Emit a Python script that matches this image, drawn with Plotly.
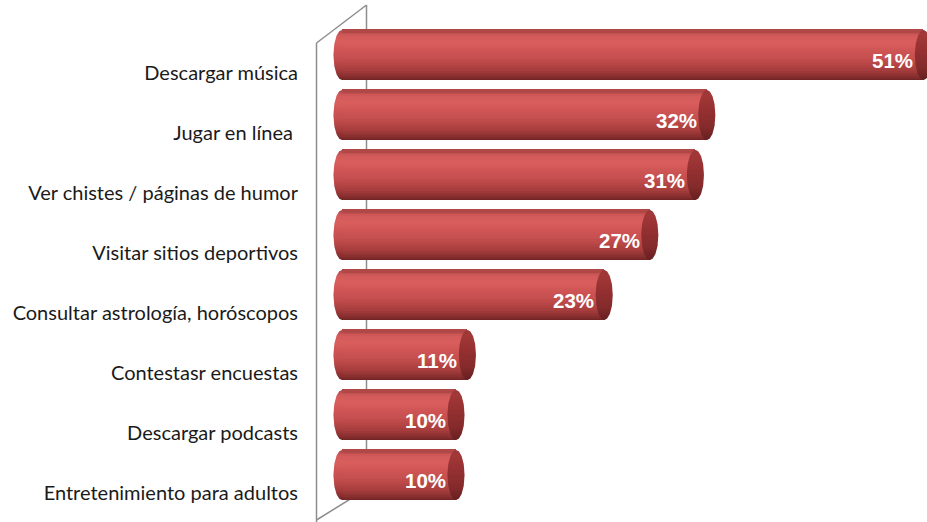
import numpy as np
import plotly.graph_objects as go

# Data
categories = [
    "Descargar música",
    "Jugar en línea\u00a0",
    "Ver chistes / páginas de humor",
    "Visitar sitios deportivos",
    "Consultar astrología, horóscopos",
    "Contestasr encuestas",
    "Descargar podcasts",
    "Entretenimiento para adultos",
]
values = [51, 32, 31, 27, 23, 11, 10, 10]
value_labels = ["51%", "32%", "31%", "27%", "23%", "11%", "10%", "10%"]

n = len(categories)
ypos = [n - 1 - i for i in range(n)]  # first category at the top

# Cylinder styling
BAR_H = 0.8333          # bar thickness in category units
CAP_RX = 0.75           # horizontal radius of the end ellipses (x units)
N_SLICES = 26

# vertical shading profile of the cylinder body, 0 = bottom edge, 1 = top edge
body_profile = [
    (0.00, (0x6a, 0x22, 0x22)),
    (0.07, (0x85, 0x2d, 0x2d)),
    (0.20, (0xa5, 0x3c, 0x3c)),
    (0.40, (0xc2, 0x4c, 0x4c)),
    (0.60, (0xcf, 0x55, 0x55)),
    (0.76, (0xda, 0x5e, 0x5e)),
    (0.89, (0xd3, 0x5a, 0x5a)),
    (0.96, (0xbb, 0x4b, 0x4b)),
    (1.00, (0xa6, 0x45, 0x45)),
]
face_profile = [
    (0.00, (0x66, 0x1f, 0x20)),
    (0.25, (0x84, 0x2a, 0x2b)),
    (0.60, (0x95, 0x30, 0x31)),
    (0.90, (0xa2, 0x38, 0x38)),
    (1.00, (0x9a, 0x38, 0x38)),
]


def shade(profile, t):
    for (t0, c0), (t1, c1) in zip(profile[:-1], profile[1:]):
        if t0 <= t <= t1:
            f = (t - t0) / (t1 - t0) if t1 > t0 else 0
            c = [round(a + (b - a) * f) for a, b in zip(c0, c1)]
            return "rgb({},{},{})".format(*c)
    c = profile[-1][1]
    return "rgb({},{},{})".format(*c)


def colorscale(profile):
    return [[t, "rgb({},{},{})".format(*c)] for t, c in profile]


fig = go.Figure()

# Cylinder bodies: stacked thin slices give the vertical shading
slice_w = BAR_H / N_SLICES
for j in range(N_SLICES):
    t = (j + 0.5) / N_SLICES
    fig.add_trace(go.Bar(
        x=values,
        y=ypos,
        orientation="h",
        base=0,
        width=slice_w * 1.6,
        offset=-BAR_H / 2 + j * slice_w - (0.3 * slice_w if j else 0),
        marker=dict(color=shade(body_profile, t), line=dict(width=0)),
        hoverinfo="skip",
        showlegend=False,
    ))

theta = np.linspace(0, np.pi, 60)
full = np.linspace(0, 2 * np.pi, 120)
ry = BAR_H / 2
for v, yc in zip(values, ypos):
    # rounded near end of the cylinder at the axis
    xs = list(-CAP_RX * np.sin(theta)) + [0.05, 0.05]
    ys = list(yc + ry * np.cos(theta)) + [yc - ry, yc + ry]
    fig.add_trace(go.Scatter(
        x=xs, y=ys, mode="lines", fill="toself", line=dict(width=0),
        fillgradient=dict(type="vertical", colorscale=colorscale(body_profile),
                          start=yc - ry, stop=yc + ry),
        hoverinfo="skip", showlegend=False,
    ))
    # flat end face at the bar's value
    fig.add_trace(go.Scatter(
        x=list(v + CAP_RX * np.cos(full)), y=list(yc + ry * np.sin(full)),
        mode="lines", fill="toself", line=dict(width=0),
        fillgradient=dict(type="vertical", colorscale=colorscale(face_profile),
                          start=yc - ry, stop=yc + ry),
        hoverinfo="skip", showlegend=False,
    ))

# value labels at the end of each cylinder
annotations = [
    dict(x=v, y=yc, xref="x", yref="y", text=lab, showarrow=False,
         xanchor="right", yanchor="middle", xshift=-8, yshift=-5,
         font=dict(family="Liberation Sans", size=20.5, color="white", weight="bold"))
    for v, yc, lab in zip(values, ypos, value_labels)
]

# 3D wall outline
L, W, H = 330, 597, 522
def px(x):
    return (x - L) / W
def py(y):
    return 1 - y / H

wall = dict(color="#8e8e8e", width=1.5)
shapes = [
    dict(type="line", xref="paper", yref="paper", x0=px(366.5), y0=py(5), x1=px(366.5), y1=py(489), line=wall, layer="below"),
    dict(type="line", xref="paper", yref="paper", x0=px(316.5), y0=py(43), x1=px(366.5), y1=py(5), line=wall, layer="below"),
    dict(type="line", xref="paper", yref="paper", x0=px(316.5), y0=py(43), x1=px(316.5), y1=py(522), line=wall, layer="below"),
    dict(type="line", xref="paper", yref="paper", x0=px(316.5), y0=py(520), x1=px(366.5), y1=py(489), line=wall, layer="below"),
]

fig.update_layout(
    width=927, height=522,
    margin=dict(l=L, r=0, t=0, b=0),
    paper_bgcolor="white", plot_bgcolor="rgba(0,0,0,0)",
    barmode="overlay",
    bargap=0,
    showlegend=False,
    annotations=annotations,
    shapes=shapes,
    xaxis=dict(range=[-12 / 11.4, -12 / 11.4 + W / 11.4], visible=False, fixedrange=True),
    yaxis=dict(
        range=[-0.7833, 7.9167],
        tickmode="array", tickvals=ypos, ticktext=categories,
        showgrid=False, zeroline=False, showline=False, ticks="",
        ticklabelshift=18, ticklabelstandoff=31,
        tickfont=dict(family="Lato", size=20, color="#1a1a1a"),
        fixedrange=True,
    ),
)

fig.write_html("out.html")
